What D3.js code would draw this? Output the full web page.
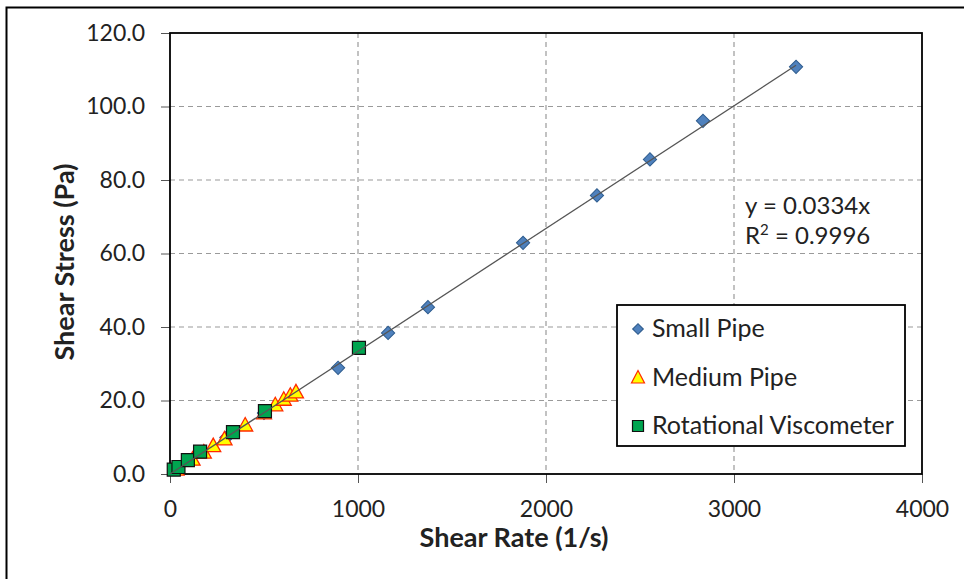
<!DOCTYPE html>
<html>
<head>
<meta charset="utf-8">
<script src="https://cdn.jsdelivr.net/npm/d3@7"></script>
<style>
  html, body { margin: 0; padding: 0; background: #fff; }
  svg { display: block; }
  text { font-family: "Lato", "Open Sans", sans-serif; fill: #222; }
</style>
</head>
<body>
<svg id="chart" width="964" height="579"></svg>
<script>
// Shear rate (1/s) and shear stress (Pa) for each measurement set
const smallPipeRate   = [300, 500, 894, 1160, 1372, 1878, 2271, 2553, 2835, 3330];
const smallPipeStress = [9.9, 16.6, 28.9, 38.4, 45.4, 62.9, 75.8, 85.6, 96.1, 110.8];

const mediumPipeRate   = [35, 120, 180, 230, 290, 400, 500, 560, 605, 640, 670];
const mediumPipeStress = [1.2, 3.9, 5.8, 7.6, 9.4, 13.2, 16.5, 18.7, 20.2, 21.3, 22.2];

const rotationalRate   = [20, 45, 95, 160, 335, 505, 1005];
const rotationalStress = [1.2, 1.9, 3.8, 6.1, 11.4, 17.1, 34.3];

const xTicks = [0, 1000, 2000, 3000, 4000];
const yTicks = [0, 20, 40, 60, 80, 100, 120];

const slope = 0.0334;
const rSquared = 0.9996;

const seriesNames = ["Small Pipe", "Medium Pipe", "Rotational Viscometer"];

const svg = d3.select("#chart");

// outer chart frame
svg.append("path")
  .attr("d", "M6.5,580 L6.5,7.5 L966,7.5")
  .attr("fill", "none").attr("stroke", "#000").attr("stroke-width", 2);

const plot = { left: 170, right: 922, top: 33, bottom: 474 };

const x = d3.scaleLinear().domain([0, 4000]).range([plot.left, plot.right]);
const y = d3.scaleLinear().domain([0, 120]).range([plot.bottom, plot.top]);

// dashed gridlines
const grid = svg.append("g");
grid.selectAll("line.gx").data(xTicks.slice(1, -1)).join("line")
  .attr("x1", d => x(d)).attr("x2", d => x(d))
  .attr("y1", plot.top).attr("y2", plot.bottom)
  .attr("stroke", "#9a9a9a").attr("stroke-width", 1.2).attr("stroke-dasharray", "5,4");
grid.selectAll("line.gy").data(yTicks.slice(1, -1)).join("line")
  .attr("x1", plot.left).attr("x2", plot.right)
  .attr("y1", d => y(d)).attr("y2", d => y(d))
  .attr("stroke", "#9a9a9a").attr("stroke-width", 1.2).attr("stroke-dasharray", "5,4");

// axes
const xAxis = d3.axisBottom(x).tickValues(xTicks).tickSize(9).tickPadding(18)
  .tickFormat(d3.format("d"));
const yAxis = d3.axisLeft(y).tickValues(yTicks).tickSize(9).tickPadding(16)
  .tickFormat(d3.format(".1f"));

const gx = svg.append("g").attr("transform", `translate(0,${plot.bottom})`).call(xAxis);
const gy = svg.append("g").attr("transform", `translate(${plot.left},0)`).call(yAxis);
[gx, gy].forEach(g => {
  g.select(".domain").remove();
  g.selectAll(".tick line").attr("stroke", "#555").attr("stroke-width", 1);
  g.selectAll(".tick text").attr("font-size", 23).attr("fill", "#222")
    .style("font-family", "Lato, 'Open Sans', sans-serif");
});

// plot area border
svg.append("rect")
  .attr("x", plot.left).attr("y", plot.top)
  .attr("width", plot.right - plot.left).attr("height", plot.bottom - plot.top)
  .attr("fill", "none").attr("stroke", "#000").attr("stroke-width", 1.8);

// axis titles
svg.append("text")
  .attr("x", 514).attr("y", 547)
  .attr("text-anchor", "middle").attr("font-size", 27).attr("font-weight", "bold")
  .text("Shear Rate (1/s)");
svg.append("text")
  .attr("transform", `translate(74,262) rotate(-90)`)
  .attr("text-anchor", "middle").attr("font-size", 27).attr("font-weight", "bold")
  .text("Shear Stress (Pa)");

// marker shapes
const diamond = d3.symbol().type(d3.symbolSquare).size(88)();
const triangle = "M0,-8 L7.5,5.5 L-7.5,5.5 Z";
const square = "M-6.5,-6.5 H6.5 V6.5 H-6.5 Z";

const markers = svg.append("g");

const small = d3.zip(smallPipeRate, smallPipeStress);
markers.selectAll("path.small").data(small).join("path")
  .attr("d", diamond)
  .attr("transform", d => `translate(${x(d[0])},${y(d[1])}) rotate(45)`)
  .attr("fill", "#4f81bd").attr("stroke", "#2f5d8f").attr("stroke-width", 1);

const medium = d3.zip(mediumPipeRate, mediumPipeStress);
markers.selectAll("path.medium").data(medium).join("path")
  .attr("d", triangle)
  .attr("transform", d => `translate(${x(d[0])},${y(d[1])})`)
  .attr("fill", "#ffff00").attr("stroke", "#ff2a00").attr("stroke-width", 1.3);

const rot = d3.zip(rotationalRate, rotationalStress);
markers.selectAll("path.rot").data(rot).join("path")
  .attr("d", square)
  .attr("transform", d => `translate(${x(d[0])},${y(d[1])})`)
  .attr("fill", "#00a550").attr("stroke", "#111").attr("stroke-width", 1.2);

// linear trendline through the origin
const xMax = d3.max([...smallPipeRate, ...mediumPipeRate, ...rotationalRate]);
svg.append("line")
  .attr("x1", x(0)).attr("y1", y(0))
  .attr("x2", x(xMax)).attr("y2", y(slope * xMax))
  .attr("stroke", "#555").attr("stroke-width", 1.3);

// trendline equation
const eqFont = "Lato, 'Open Sans', sans-serif";
svg.append("text").attr("x", 745).attr("y", 214).attr("font-size", 24)
  .style("font-family", eqFont).text(`y = ${slope}x`);
const r2 = svg.append("text").attr("x", 745).attr("y", 244).attr("font-size", 24)
  .style("font-family", eqFont);
r2.append("tspan").text("R");
r2.append("tspan").attr("dy", -9).attr("font-size", 15).text("2");
r2.append("tspan").attr("dy", 9).text(` = ${rSquared}`);

// legend
const legend = svg.append("g");
legend.append("rect")
  .attr("x", 617).attr("y", 305).attr("width", 288).attr("height", 141)
  .attr("fill", "#fff").attr("stroke", "#000").attr("stroke-width", 1.8);
const legendShapes = [
  { d: d3.symbol().type(d3.symbolSquare).size(55)(), rot: 45, fill: "#4f81bd", stroke: "#2f5d8f" },
  { d: "M0,-7 L6.5,5.5 L-6.5,5.5 Z", rot: 0, fill: "#ffff00", stroke: "#ff2a00" },
  { d: "M-5.5,-5.5 H5.5 V5.5 H-5.5 Z", rot: 0, fill: "#00a550", stroke: "#111" }
];
seriesNames.forEach((name, i) => {
  const cy = 329 + i * 48.5;
  const s = legendShapes[i];
  legend.append("path").attr("d", s.d)
    .attr("transform", `translate(638,${cy}) rotate(${s.rot})`)
    .attr("fill", s.fill).attr("stroke", s.stroke).attr("stroke-width", 1.2);
  legend.append("text").attr("x", 652).attr("y", cy + 8)
    .attr("font-size", 25).style("font-family", eqFont)
    .text(name);
});
</script>
</body>
</html>
